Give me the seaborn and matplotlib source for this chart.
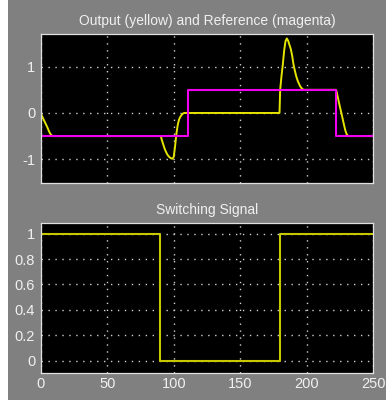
import matplotlib
matplotlib.use("Agg")
import matplotlib.pyplot as plt
import seaborn as sns
import pandas as pd
from matplotlib.patches import Rectangle

# ---- data ----
out_t = [0, 1, 2, 3, 4, 5, 6, 7, 8, 9,
         90, 90.5, 91, 92, 93, 94, 95, 96, 97, 98, 99, 100, 101, 102, 103, 104, 105, 106, 107, 108,
         179.5, 180, 181, 182, 183, 184, 185, 186, 187, 188, 189, 190, 191, 192, 193, 194, 195, 196, 197, 198,
         222, 222.5, 223, 224, 225, 226, 227, 228, 229, 230, 231, 250]
out_v = [0, -0.07, -0.13, -0.19, -0.25, -0.31, -0.38, -0.44, -0.48, -0.5,
         -0.5, -0.52, -0.58, -0.67, -0.76, -0.83, -0.89, -0.93, -0.96, -0.98, -0.99, -0.95, -0.72, -0.45, -0.26, -0.14, -0.08, -0.04, -0.01, 0,
         0, 0.5, 0.8, 1.05, 1.35, 1.55, 1.61, 1.56, 1.47, 1.38, 1.24, 1.05, 0.92, 0.8, 0.71, 0.64, 0.58, 0.54, 0.51, 0.5,
         0.5, 0.45, 0.38, 0.25, 0.12, 0.0, -0.13, -0.26, -0.38, -0.46, -0.5, -0.5]

ref_t = [0, 111, 222, 250]
ref_v = [-0.5, 0.5, -0.5, -0.5]

sw_t = [0, 90, 180, 250]
sw_v = [1, 0, 1, 1]

top_title = "Output (yellow) and Reference (magenta)"
bot_title = "Switching Signal"
x_ticks = [0, 50, 100, 150, 200, 250]
top_yticks = [-1, 0, 1]
bot_yticks = [0, 0.2, 0.4, 0.6, 0.8, 1]

# ---- style ----
sns.set_style("dark")
plt.rcParams['font.family'] = ['Liberation Sans Narrow', 'Liberation Sans', 'DejaVu Sans']
plt.rcParams['axes.unicode_minus'] = False

GRAY = '#808080'
FRAME = '#e0e0e0'
TXT = '#f0f0f0'

fig = plt.figure(figsize=(3.86, 4.03), dpi=100, facecolor='white')
fig.patches.append(Rectangle((8 / 386, 3 / 403), 1 - 8 / 386, 1 - 3 / 403,
                             transform=fig.transFigure, facecolor=GRAY,
                             edgecolor='none', zorder=-10))

W, H = 386, 403
def ax_rect(l, r, t, b):
    return [l / W, 1 - b / H, (r - l) / W, (b - t) / H]

ax1 = fig.add_axes(ax_rect(40.7, 373.3, 34.3, 183.3))
ax2 = fig.add_axes(ax_rect(40.7, 373.3, 223.3, 373.3))

df_out = pd.DataFrame({'t': out_t, 'v': out_v})
df_ref = pd.DataFrame({'t': ref_t, 'v': ref_v})
df_sw = pd.DataFrame({'t': sw_t, 'v': sw_v})

sns.lineplot(data=df_out, x='t', y='v', ax=ax1, color='#e4e400', linewidth=1.4,
             estimator=None, sort=False)
sns.lineplot(data=df_ref, x='t', y='v', ax=ax1, color='#f000f0', linewidth=1.5,
             estimator=None, drawstyle='steps-post')
sns.lineplot(data=df_sw, x='t', y='v', ax=ax2, color='#c8c800', linewidth=1.5,
             estimator=None, drawstyle='steps-post')

for ax, yt, ylim, title in [(ax1, top_yticks, (-1.52, 1.70), top_title),
                             (ax2, bot_yticks, (-0.1, 1.082), bot_title)]:
    ax.set_facecolor('black')
    ax.set_xlim(0, 250)
    ax.set_ylim(*ylim)
    ax.set_xticks(x_ticks)
    ax.set_yticks(yt)
    ax.set_yticklabels([('%g' % v) for v in yt])
    ax.set_xlabel('')
    ax.set_ylabel('')
    ax.set_axisbelow(True)
    ax.grid(True, color='#d0d0d0', linestyle=(0, (1, 4)), linewidth=1.0)
    for s in ax.spines.values():
        s.set_visible(True)
        s.set_color(FRAME)
        s.set_linewidth(0.9)
    ax.tick_params(axis='both', length=0, labelsize=10.5, colors=TXT)
    ax.tick_params(axis='y', pad=4)
    ax.tick_params(axis='x', pad=3)
    ax.set_title(title, color=TXT, fontsize=10, pad=6.5)

ax1.set_xticklabels([])

fig.savefig('out.png', dpi=100, facecolor=fig.get_facecolor())
